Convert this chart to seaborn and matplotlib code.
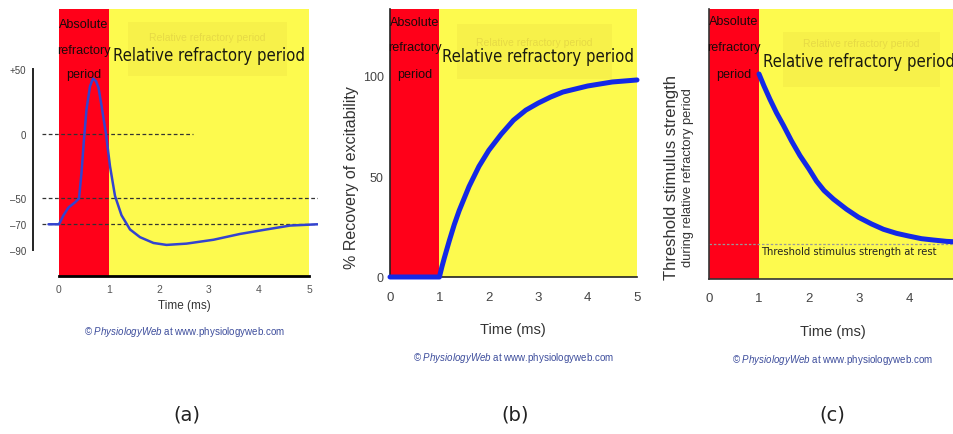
import matplotlib
matplotlib.use("Agg")
import matplotlib.pyplot as plt
import pandas as pd
import seaborn as sns
from matplotlib.patches import Rectangle

# (a) action potential, membrane potential (mV) against time (ms)
ap_time = [-0.21, 0.0, 0.09, 0.19, 0.32, 0.40, 0.45, 0.50, 0.55, 0.62, 0.68, 0.74, 0.79,
           0.85, 0.94, 1.02, 1.12, 1.25, 1.42, 1.62, 1.89, 2.15, 2.55, 3.09, 3.62, 4.15,
           4.62, 5.17]
ap_mv = [-70, -70, -63, -57, -53, -50, -30, -4, 19, 37, 43, 41, 36,
         22, 0, -25, -48, -63, -74, -80, -84.5, -86, -85, -82, -77.5, -74,
         -71, -70]
ap_yticks = [50, 0, -50, -70, -90]
ap_yticklabels = ["+50", "0", "–50", "–70", "–90"]

# (b) % recovery of excitability
rec_time = [0, 1.0, 1.05, 1.1, 1.2, 1.3, 1.4, 1.5, 1.6, 1.7, 1.8, 1.9, 2.0, 2.25, 2.5,
            2.75, 3.0, 3.25, 3.5, 3.75, 4.0, 4.5, 5.0]
rec_pct = [0, 0, 5, 9.5, 18, 26, 33, 39, 45, 50, 55, 59, 63, 71, 78,
           83, 86.5, 89.5, 92, 93.5, 95, 97, 98]

# (c) threshold stimulus strength (threshold at rest = 1)
thr_time = [1.0, 1.1, 1.22, 1.35, 1.49, 1.65, 1.82, 2.0, 2.15, 2.3, 2.49, 2.75, 2.99,
            3.25, 3.49, 3.75, 3.99, 4.25, 4.49, 4.75, 5.0]
thr_strength = [3.54, 3.36, 3.16, 2.96, 2.77, 2.54, 2.32, 2.12, 1.94, 1.80, 1.67, 1.52, 1.40,
                1.30, 1.22, 1.16, 1.12, 1.08, 1.06, 1.04, 1.03]

time_ticks = [0, 1, 2, 3, 4, 5]

RED = "#ff0019"
YELLOW = "#fdfa4e"
BOX = "#f2ea48"
BLUE_A = "#3343cf"
BLUE = "#1428e6"
COPY = "#3d4d9c"
W, H = 954, 435

sns.set_theme(style="white")
plt.rcParams["font.family"] = ["DejaVu Sans"]
plt.rcParams["mathtext.fontset"] = "custom"
plt.rcParams["mathtext.rm"] = "Liberation Sans"
plt.rcParams["mathtext.it"] = "Liberation Sans:italic"

ARIAL = ["Liberation Sans", "DejaVu Sans"]

fig = plt.figure(figsize=(W / 100, H / 100), dpi=100)


def add_axes(left, top, right, bottom):
    return fig.add_axes([left / W, 1 - bottom / H, (right - left) / W, (bottom - top) / H])


def ftext(x, y, s, **kw):
    fig.text(x / W, 1 - y / H, s, ha="center", va="center", **kw)


def background(ax, abs_ys, rel_y, box, faint_y, fs_rel):
    ax.axvspan(0, 1, color=RED, lw=0, zorder=0)
    ax.axvspan(1, 5, color=YELLOW, lw=0, zorder=0)
    x0, x1, y0, y1 = box
    ax.add_patch(Rectangle((x0, y0), x1 - x0, y1 - y0, color=BOX, alpha=0.5, lw=0, zorder=0.5))
    ax.text((x0 + x1) / 2, faint_y, "Relative refractory period", ha="center", va="center",
            fontsize=fs_rel * 0.62, color="#e6da45", family=ARIAL, zorder=0.6)
    for word, y in zip(["Absolute", "refractory", "period"], abs_ys):
        ax.text(0.5, y, word, ha="center", va="center", fontsize=9.1, color="#1a0a0a",
                family=ARIAL, zorder=3)
    ax.text(3.0, rel_y, "Relative refractory period", ha="center", va="center",
            fontsize=fs_rel, color="#1a1a10", fontstretch="condensed", zorder=3)


# ---------- (a) ----------
ax = add_axes(33, 10, 318, 277)
ax.set_xlim(-0.52, 5.18)
ax.set_ylim(-110.1, 96.9)
background(ax, [85, 65.5, 46.5], 61, (1.38, 4.56, 45, 86.8), 75, 12)
for y, x1 in zip([0, -50, -70], [2.68, 5.18, 5.18]):
    ax.plot([-0.34, x1], [y, y], ls=(0, (3, 2)), color="#333333", lw=0.9, zorder=1)
sns.lineplot(data=pd.DataFrame({"t": ap_time, "v": ap_mv}), x="t", y="v", sort=False,
             color=BLUE_A, linewidth=1.8, ax=ax, zorder=2)
ax.set_xticks(time_ticks)
ax.set_yticks(ap_yticks)
ax.set_yticklabels(ap_yticklabels)
ax.spines[["top", "right"]].set_visible(False)
ax.spines["left"].set_bounds(-90, 50)
ax.spines["bottom"].set_bounds(0, 5)
ax.spines["left"].set_color("#222222")
ax.spines["bottom"].set_color("black")
ax.spines["left"].set_linewidth(1.4)
ax.spines["bottom"].set_linewidth(2)
ax.tick_params(axis="x", direction="in", length=5, width=1.5, color="black",
               labelsize=7.5, labelcolor="#555555", pad=6)
ax.tick_params(axis="y", direction="out", length=4, width=1.2, color="#222222",
               labelsize=7, labelcolor="#444444", pad=1)
for lab in ax.get_xticklabels() + ax.get_yticklabels():
    lab.set_family(ARIAL)
ax.set_xlabel("")
ax.set_ylabel("")
ftext(184, 306, "Time (ms)", fontsize=8.5, color="#333333", family=ARIAL)
ftext(184, 332, r"© $\mathit{PhysiologyWeb}$ at www.physiologyweb.com", fontsize=7, color=COPY,
      family=ARIAL)
ftext(187, 415, "(a)", fontsize=14, color="#222222")

# ---------- (b) ----------
ax = add_axes(390, 10, 637, 278)
ax.set_xlim(0, 5)
ax.set_ylim(0, 133.3)
background(ax, [127, 114.4, 101], 110, (1.36, 4.5, 98.5, 125.9), 117, 12)
sns.lineplot(data=pd.DataFrame({"t": rec_time, "p": rec_pct}), x="t", y="p", sort=False,
             color=BLUE, linewidth=3.6, ax=ax, zorder=4)
for line in ax.get_lines():
    line.set_clip_on(False)
    line.set_solid_joinstyle("round")
ax.set_xticks(time_ticks)
ax.set_yticks([0, 50, 100])
ax.spines[["top", "right"]].set_visible(False)
for s in ["left", "bottom"]:
    ax.spines[s].set_color("#222222")
    ax.spines[s].set_linewidth(1.2)
ax.tick_params(axis="x", direction="in", length=5, width=1.3, color="#222222",
               labelsize=9.5, labelcolor="#444444", pad=10)
ax.tick_params(axis="y", direction="out", length=3, width=1, color="#222222",
               labelsize=9, labelcolor="#444444", pad=1.5)
for lab in ax.get_xticklabels() + ax.get_yticklabels():
    lab.set_family(ARIAL)
ax.set_xlabel("")
ax.set_ylabel("")
ftext(352, 178, "% Recovery of excitability", fontsize=11.5, color="#333333", rotation=90,
      family=ARIAL)
ftext(513, 330, "Time (ms)", fontsize=10.5, color="#333333", family=ARIAL)
ftext(513, 358, r"© $\mathit{PhysiologyWeb}$ at www.physiologyweb.com", fontsize=7, color=COPY,
      family=ARIAL)
ftext(515, 415, "(b)", fontsize=14, color="#222222")

# ---------- (c) ----------
ax = add_axes(709, 10, 959, 280)
ax.set_xlim(0, 5)
ax.set_ylim(0.478, 4.51)
background(ax, [4.33, 3.94, 3.54], 3.73, (1.48, 4.62, 3.34, 4.16), 4.0, 12)
ax.plot([0, 5], [1, 1], ls=(0, (2, 1.5)), color="#999999", lw=0.9, zorder=1)
sns.lineplot(data=pd.DataFrame({"t": thr_time, "s": thr_strength}), x="t", y="s", sort=False,
             color=BLUE, linewidth=3.6, ax=ax, zorder=4)
for line in ax.get_lines():
    line.set_solid_joinstyle("round")
ax.text(1.04, 0.9, "Threshold stimulus strength at rest", ha="left", va="center",
        fontsize=7.2, color="#222222", zorder=3)
ax.set_xticks(time_ticks)
ax.set_yticks([1, 2, 3.12])
ax.set_yticklabels([])
ax.spines[["top", "right"]].set_visible(False)
for s in ["left", "bottom"]:
    ax.spines[s].set_color("#333333")
    ax.spines[s].set_linewidth(1.2)
ax.tick_params(axis="x", direction="in", length=5, width=1.3, color="#222222",
               labelsize=9.5, labelcolor="#444444", pad=9)
ax.tick_params(axis="y", direction="out", length=3, width=1, color="#222222")
for lab in ax.get_xticklabels():
    lab.set_family(ARIAL)
ax.set_xlabel("")
ax.set_ylabel("")
ftext(672, 178, "Threshold stimulus strength", fontsize=12, color="#333333", rotation=90,
      family=ARIAL)
ftext(688, 178, "during relative refractory period", fontsize=9.3, color="#333333", rotation=90,
      family=ARIAL)
ftext(833, 332, "Time (ms)", fontsize=10.5, color="#333333", family=ARIAL)
ftext(832, 360, r"© $\mathit{PhysiologyWeb}$ at www.physiologyweb.com", fontsize=7, color=COPY,
      family=ARIAL)
ftext(832, 415, "(c)", fontsize=14, color="#222222")

fig.savefig("out.png", dpi=100, facecolor="white")
